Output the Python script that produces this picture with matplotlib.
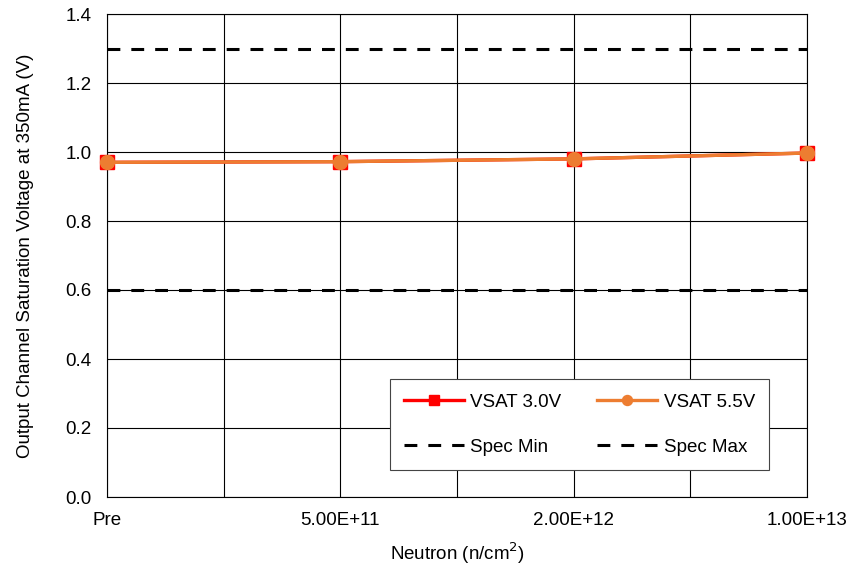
import numpy as np
import matplotlib
matplotlib.use("Agg")
import matplotlib.pyplot as plt

plt.rcParams['font.family'] = ['Liberation Sans', 'DejaVu Sans']

categories = ['Pre', '5.00E+11', '2.00E+12', '1.00E+13']
vsat_30 = [0.970, 0.972, 0.980, 0.997]
vsat_55 = [0.970, 0.972, 0.980, 0.997]
spec_min = 0.6
spec_max = 1.3

x = np.arange(len(categories))

fig = plt.figure(figsize=(8.51, 5.69), dpi=100)
ax = fig.add_axes([107 / 851, 1 - 497 / 569, 700 / 851, 483 / 569])

dash = (0, (4.2, 3.6))
l30, = ax.plot(x, vsat_30, color='#ff0000', marker='s', markersize=10.5, linewidth=2.4,
               label='VSAT 3.0V', zorder=3, clip_on=False)
l55, = ax.plot(x, vsat_55, color='#ed7d31', marker='o', markersize=10, linewidth=2.4,
               label='VSAT 5.5V', zorder=4, clip_on=False)
lmin = ax.axhline(spec_min, color='black', linestyle=dash, linewidth=2.2, label='Spec Min', zorder=2)
lmax = ax.axhline(spec_max, color='black', linestyle=dash, linewidth=2.2, label='Spec Max', zorder=2)

ax.set_xlim(0, 3)
ax.set_ylim(0, 1.4)
ax.set_xticks(x)
ax.set_xticklabels(categories)
ax.set_xticks([0.5, 1.5, 2.5], minor=True)
ax.set_yticks(np.arange(0, 1.41, 0.2))
ax.yaxis.set_major_formatter(plt.FormatStrFormatter('%.1f'))
ax.tick_params(which='both', length=0, labelsize=13.5)
ax.tick_params(axis='x', pad=11)
ax.tick_params(axis='y', pad=11)
ax.grid(True, which='both', color='black', linewidth=0.8)
ax.set_axisbelow(True)
for s in ax.spines.values():
    s.set_color('black')
    s.set_linewidth(0.8)

ax.set_xlabel('Neutron (n/cm$^2$)', fontsize=13.5, labelpad=8)
ax.set_ylabel('Output Channel Saturation Voltage at 350mA (V)', fontsize=13.5, labelpad=23)

# row-wise order: matplotlib fills columns first
handles = [l30, lmin, l55, lmax]
labels = [h.get_label() for h in handles]
leg = ax.legend(handles, labels, ncol=2, loc='lower left', bbox_to_anchor=(0.404, 0.056),
                borderaxespad=0, fontsize=13.5, frameon=True, fancybox=False,
                edgecolor='#444444', framealpha=1, borderpad=0.75, labelspacing=1.5,
                handlelength=3.2, handletextpad=0.35, columnspacing=1.9, markerscale=0.72)
leg.get_frame().set_linewidth(0.8)

fig.savefig('out.png', dpi=100)
